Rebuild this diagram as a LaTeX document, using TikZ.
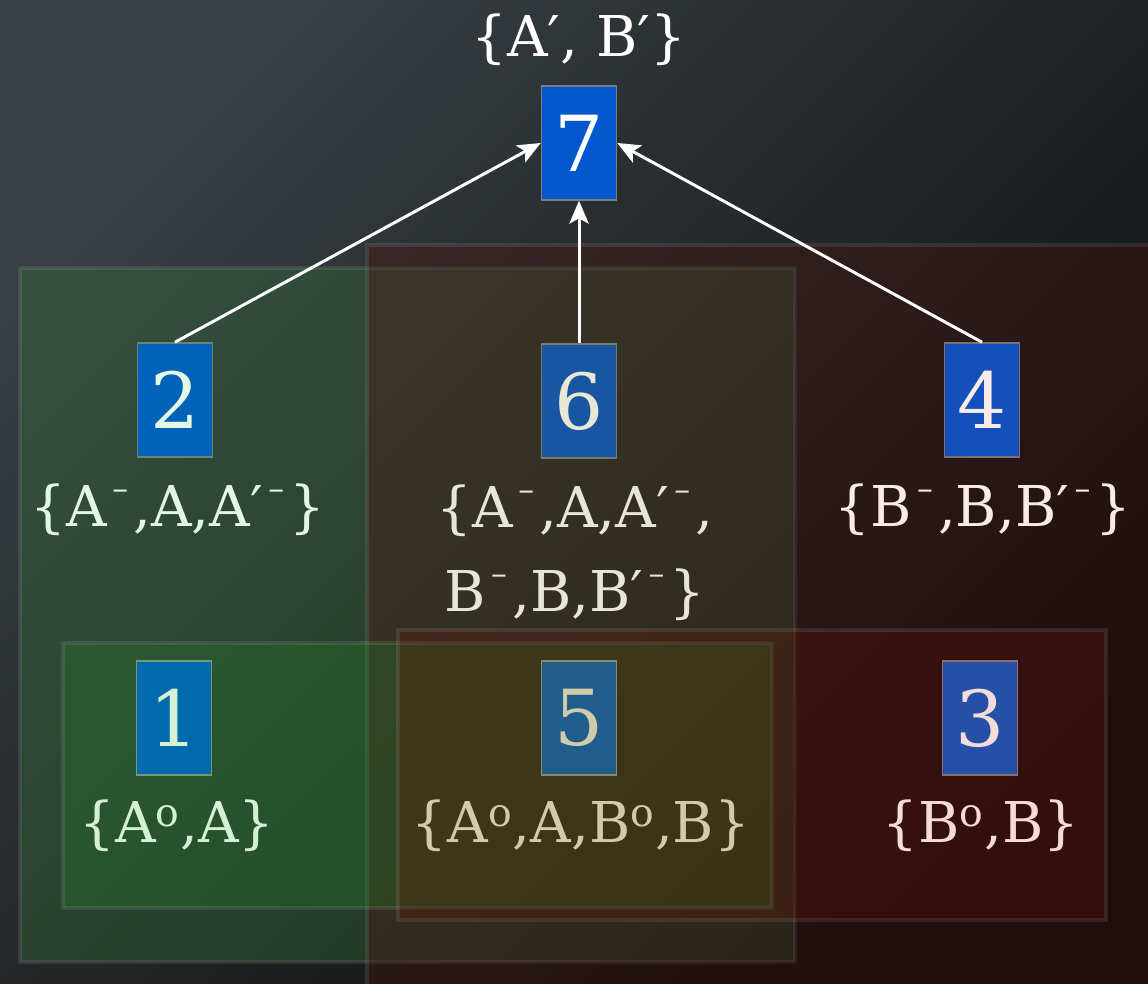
\documentclass[tikz,border=0pt]{standalone}
\usepackage{fontspec}
\setmainfont{DejaVu Serif}
\usetikzlibrary{arrows.meta}
\definecolor{bgtop}{RGB}{56,62,66}
\definecolor{bgbot}{RGB}{12,13,15}
\definecolor{greenA}{RGB}{52,122,62}
\definecolor{redA}{RGB}{80,14,10}
\definecolor{greenB}{RGB}{40,120,36}
\definecolor{redB}{RGB}{100,20,8}
\definecolor{b7}{RGB}{0,88,204}\definecolor{e7}{RGB}{120,128,130}
\definecolor{b2}{RGB}{0,98,184}\definecolor{e2}{RGB}{110,130,120}\definecolor{t2}{RGB}{228,246,228}
\definecolor{b6}{RGB}{24,86,162}\definecolor{e6}{RGB}{120,124,110}\definecolor{t6}{RGB}{232,230,212}
\definecolor{b4}{RGB}{20,80,187}\definecolor{e4}{RGB}{120,115,115}\definecolor{t4}{RGB}{248,236,232}
\definecolor{b1}{RGB}{0,106,173}\definecolor{e1}{RGB}{120,150,120}\definecolor{t1}{RGB}{214,240,214}
\definecolor{b5}{RGB}{32,92,140}\definecolor{e5}{RGB}{140,138,104}\definecolor{t5}{RGB}{208,204,170}
\definecolor{b3}{RGB}{36,80,168}\definecolor{e3}{RGB}{140,110,110}\definecolor{t3}{RGB}{245,220,216}
\newcommand{\supm}{\raisebox{0.48em}{\fontsize{18}{18}\selectfont\,–\,}}
\newcommand{\supo}{\textsuperscript{o}}
\begin{document}
\begin{tikzpicture}[x=0.02cm,y=-0.02cm,
  numbox/.style={draw=#1, line width=0.9pt, minimum width=1.5cm, minimum height=2.28cm, inner sep=0pt, font=\fontsize{44}{44}\selectfont},
  setlabel/.style={font=\fontsize{32}{48}\selectfont, inner sep=0pt, align=center},
  region/.style={line width=2.2pt, draw=white, draw opacity=0.09, fill opacity=0.32},
  regionb/.style={region, fill opacity=0.28},
  link/.style={draw=white, line width=1.7pt, -{Stealth[length=13pt,width=11pt,inset=3pt]}}
]
\useasboundingbox (0,0) rectangle (1148,983);
\clip (0,0) rectangle (1148,983);
\shade[top color=bgtop, bottom color=bgbot, shading angle=45] (0,0) rectangle (1148,983);

% regions
\draw[region, fill=greenA] (20,268) rectangle (795,962);
\draw[region, fill=redA] (367,245) rectangle (1160,1000);
\draw[region, fill=greenB] (63,643) rectangle (772,908);
\draw[regionb, fill=redB] (398,630) rectangle (1106,920);

% nodes
\node[numbox=e7, fill=b7, text=white] (n7) at (579,143) {7};
\node[numbox=e2, fill=b2, text=t2] (n2) at (175,400) {2};
\node[numbox=e6, fill=b6, text=t6] (n6) at (579,401) {6};
\node[numbox=e4, fill=b4, text=t4] (n4) at (982,400) {4};
\node[numbox=e1, fill=b1, text=t1] (n1) at (174,718) {1};
\node[numbox=e5, fill=b5, text=t5] (n5) at (579,718) {5};
\node[numbox=e3, fill=b3, text=t3] (n3) at (980,718) {3};

% labels
\node[setlabel, text=white] (l7) at (579,40) {\{A′, B′\}};
\node[setlabel, text=t2] (l2) at (178,510) {\{A\supm,A,A′\supm\}};
\node[setlabel, text=t6] (l6) at (575,553) {\{A\supm,A,A′\supm,\\B\supm,B,B′\supm\}};
\node[setlabel, text=t4] (l4) at (983,510) {\{B\supm,B,B′\supm\}};
\node[setlabel, text=t1] (l1) at (177,826) {\{A\supo,A\}};
\node[setlabel, text=t5] (l5) at (581,826) {\{A\supo,A,B\supo,B\}};
\node[setlabel, text=t3] (l3) at (981,826) {\{B\supo,B\}};

% connectors
\draw[link] (n2.north) -- (n7.west);
\draw[link] (n6.north) -- (n7.south);
\draw[link] (n4.north) -- (n7.east);
\end{tikzpicture}
\end{document}
